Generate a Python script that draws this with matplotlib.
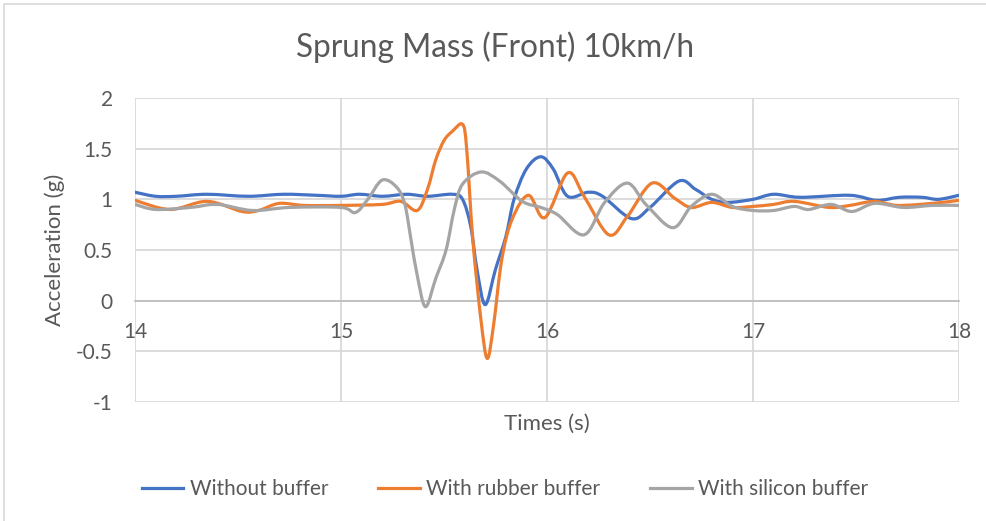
import matplotlib
matplotlib.use("Agg")
from matplotlib import pyplot as plt
from matplotlib.path import Path
from matplotlib.patches import PathPatch, Rectangle
from matplotlib.lines import Line2D
import numpy as np

# knots (time in s, acceleration in g)
t_without = [14.0, 14.1, 14.2, 14.35, 14.55, 14.72, 14.88, 15.0, 15.09, 15.2, 15.32, 15.42,
             15.54, 15.59, 15.63, 15.66, 15.70, 15.75, 15.8, 15.84, 15.9, 15.97, 16.03, 16.1,
             16.2, 16.27, 16.41, 16.5, 16.64, 16.72, 16.8, 16.88, 17.0, 17.1, 17.23, 17.47,
             17.6, 17.71, 17.82, 17.9, 18.0]
a_without = [1.07, 1.03, 1.03, 1.05, 1.03, 1.05, 1.04, 1.03, 1.05, 1.03, 1.05, 1.03,
             1.05, 1.0, 0.73, 0.31, -0.04, 0.31, 0.63, 1.0, 1.3, 1.42, 1.3, 1.03,
             1.07, 1.03, 0.81, 0.92, 1.18, 1.1, 1.0, 0.97, 1.0, 1.05, 1.02, 1.04,
             0.99, 1.02, 1.02, 1.0, 1.04]

t_rubber = [14.0, 14.17, 14.35, 14.52, 14.6, 14.7, 14.82, 15.0, 15.2, 15.29, 15.37, 15.42,
            15.46, 15.5, 15.54, 15.59, 15.61, 15.64, 15.68, 15.71, 15.74, 15.78, 15.83,
            15.91, 15.99, 16.1, 16.18, 16.3, 16.39, 16.51, 16.62, 16.7, 16.8, 16.9, 17.0,
            17.1, 17.2, 17.37, 17.47, 17.59, 17.7, 17.87, 18.0]
a_rubber = [0.99, 0.9, 0.98, 0.88, 0.89, 0.96, 0.94, 0.94, 0.95, 0.98, 0.89, 1.1,
            1.39, 1.58, 1.67, 1.74, 1.5, 0.6, -0.2, -0.57, -0.25, 0.4, 0.8,
            1.04, 0.82, 1.26, 1.03, 0.65, 0.83, 1.16, 1.01, 0.92, 0.97, 0.92, 0.93,
            0.95, 0.98, 0.92, 0.94, 0.98, 0.94, 0.96, 0.99]

t_silicon = [14.0, 14.1, 14.27, 14.4, 14.57, 14.75, 15.0, 15.07, 15.13, 15.2, 15.27, 15.31,
             15.34, 15.37, 15.41, 15.46, 15.51, 15.55, 15.59, 15.68, 15.77, 15.88, 15.97,
             16.05, 16.18, 16.28, 16.39, 16.48, 16.61, 16.7, 16.8, 16.9, 17.0, 17.1, 17.2,
             17.27, 17.38, 17.48, 17.59, 17.73, 17.87, 18.0]
a_silicon = [0.95, 0.9, 0.92, 0.95, 0.89, 0.92, 0.92, 0.87, 1.0, 1.19, 1.12, 0.95,
             0.6, 0.25, -0.06, 0.22, 0.5, 0.9, 1.15, 1.27, 1.18, 0.98, 0.92,
             0.85, 0.65, 0.97, 1.16, 0.95, 0.72, 0.93, 1.05, 0.93, 0.89, 0.89, 0.93,
             0.9, 0.95, 0.88, 0.96, 0.92, 0.94, 0.94]

labels = ["Without buffer", "With rubber buffer", "With silicon buffer"]
colors = ["#4472C4", "#ED7D31", "#A5A5A5"]

x_ticks = [14, 15, 16, 17, 18]
y_ticks = [-1, -0.5, 0, 0.5, 1, 1.5, 2]
y_ticklabels = ["-1", "-0.5", "0", "0.5", "1", "1.5", "2"]

FONT = "Lato"
TXT = "#595959"


def smooth_path(xs, ys):
    # Excel-style smoothed line: cubic bezier segments through the data points
    xs = np.asarray(xs, float)
    ys = np.asarray(ys, float)
    n = len(xs)
    verts = [(xs[0], ys[0])]
    codes = [Path.MOVETO]
    for i in range(n - 1):
        i0 = max(i - 1, 0)
        i3 = min(i + 2, n - 1)
        c1 = (xs[i] + (xs[i + 1] - xs[i0]) / 6, ys[i] + (ys[i + 1] - ys[i0]) / 6)
        c2 = (xs[i + 1] - (xs[i3] - xs[i]) / 6, ys[i + 1] - (ys[i3] - ys[i]) / 6)
        verts += [c1, c2, (xs[i + 1], ys[i + 1])]
        codes += [Path.CURVE4] * 3
    return Path(verts, codes)


fig = plt.figure(figsize=(9.86, 5.21), dpi=100)
fig.patches.append(Rectangle((4 / 986, -0.1), 1.1, 1 - 4 / 521 + 0.1, transform=fig.transFigure,
                             fill=False, edgecolor="#d9d9d9", linewidth=1.2))

ax = fig.add_axes([135 / 986, 1 - 402 / 521, 824 / 986, 304 / 521])

for xs, ys, c in zip([t_without, t_rubber, t_silicon],
                     [a_without, a_rubber, a_silicon], colors):
    ax.add_patch(PathPatch(smooth_path(xs, ys), fill=False, edgecolor=c,
                           linewidth=2.3, capstyle="round", joinstyle="round", zorder=3))

ax.set_xlim(14, 18)
ax.set_ylim(-1, 2)
ax.set_xticks(x_ticks)
ax.set_yticks(y_ticks)
ax.set_yticklabels(y_ticklabels)
ax.grid(True, color="#d9d9d9", linewidth=1.3)
ax.set_axisbelow(True)

for s in ["top", "right", "left"]:
    ax.spines[s].set_visible(False)
ax.spines["bottom"].set_position(("data", 0))
ax.spines["bottom"].set_color("#bfbfbf")
ax.spines["bottom"].set_linewidth(1.3)
ax.spines["bottom"].set_zorder(2)

ax.tick_params(length=0, labelsize=15, labelcolor=TXT)
ax.tick_params(axis="x", pad=15)
ax.tick_params(axis="y", pad=16)
for lab in ax.get_xticklabels() + ax.get_yticklabels():
    lab.set_fontfamily(FONT)

ax.set_xlabel("Times (s)", fontsize=16, color=TXT, family=FONT)
ax.xaxis.set_label_coords(0.5, -0.04)
ax.set_ylabel("Acceleration (g)", fontsize=16, color=TXT, family=FONT)
ax.yaxis.set_label_coords(-0.085, 0.5)

fig.text(0.502, 1 - 47 / 521, "Sprung Mass (Front) 10km/h", ha="center", va="center",
         fontsize=22.7, color=TXT, family=FONT)

handles = [Line2D([], [], color=c, linewidth=2.3) for c in colors]
fig.legend(handles, labels, loc="center", bbox_to_anchor=(0.512, 1 - 489 / 521), ncol=3,
           frameon=False, prop={"family": FONT, "size": 15}, labelcolor=TXT,
           handlelength=2.0, handletextpad=0.3, columnspacing=2.4)

fig.savefig("out.png", dpi=100)
